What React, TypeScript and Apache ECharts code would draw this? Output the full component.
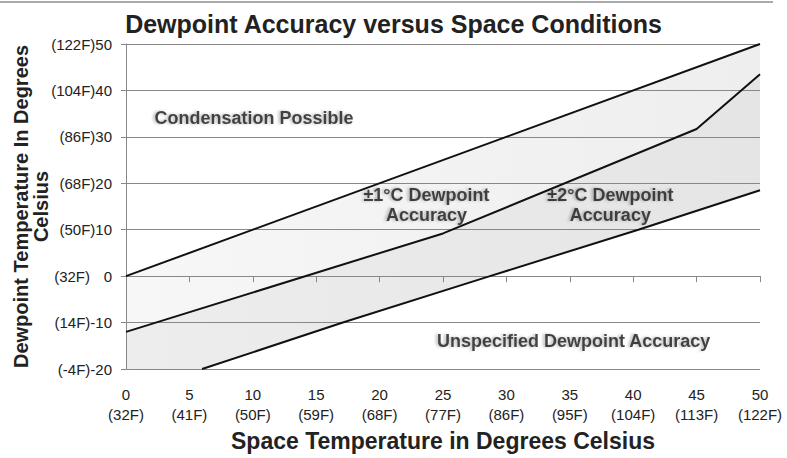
import React, { useEffect, useRef } from "react";
import * as echarts from "echarts";

// Axis ticks
const xTicks = [0, 5, 10, 15, 20, 25, 30, 35, 40, 45, 50];
const xTickF = ["(32F)", "(41F)", "(50F)", "(59F)", "(68F)", "(77F)", "(86F)", "(95F)", "(104F)", "(113F)", "(122F)"];
const yTicks = [-20, -10, 0, 10, 20, 30, 40, 50];
const yTickF = ["(-4F)", "(14F)", "(32F)", "(50F)", "(68F)", "(86F)", "(104F)", "(122F)"];

// Boundary lines (space temp °C -> dewpoint °C)
const saturationX = [0, 50];
const saturationY = [0, 50];
const acc1X = [0, 25, 45, 50];
const acc1Y = [-12, 9.2, 31.7, 43.5];
const acc2X = [6, 17.1, 28.7, 40.4, 50];
const acc2Y = [-20, -10, 0, 10, 18.5];

// Region annotations
const regionTexts = ["Condensation Possible", "±1°C Dewpoint\nAccuracy", "±2°C Dewpoint\nAccuracy", "Unspecified Dewpoint Accuracy"];
const regionX = [10.1, 23.7, 38.2, 35.3];
const regionY = [34, 15.3, 15.3, -14];

const zip = (xs: number[], ys: number[]) => xs.map((x, i) => [x, ys[i]]);

const FONT = "'Liberation Sans', Arial, sans-serif";

export default function App() {
  const ref = useRef<HTMLDivElement>(null);
  useEffect(() => {
    if (!ref.current) return;
    const chart = echarts.init(ref.current, null, { renderer: "svg" });
    const hGrad = (a: string, b: string) =>
      new echarts.graphic.LinearGradient(0, 0, 1, 0, [
        { offset: 0, color: a },
        { offset: 1, color: b },
      ]);
    const fill = (xs: number[], ys: number[], color: any) => ({
      type: "line",
      data: zip(xs, ys),
      symbol: "none",
      z: 1,
      silent: true,
      lineStyle: { width: 0, opacity: 0 },
      areaStyle: { color, opacity: 1, origin: "start" },
    });
    const stroke = (xs: number[], ys: number[]) => ({
      type: "line",
      data: zip(xs, ys),
      symbol: "none",
      z: 3,
      silent: true,
      lineStyle: { width: 2, color: "#111" },
    });
    chart.setOption({
      animation: false,
      backgroundColor: "#ffffff",
      title: {
        text: "Dewpoint Accuracy versus Space Conditions",
        left: "center",
        top: 11,
        padding: 0,
        textStyle: { fontFamily: FONT, fontWeight: "bold", fontSize: 25, color: "#222" },
      },
      graphic: [
        { type: "line", shape: { x1: 0, y1: 2, x2: 773, y2: 2 }, style: { stroke: "#aaa", lineWidth: 2 } },
      ],
      grid: { left: 126, right: 27, top: 44, bottom: 89, containLabel: false, outerBoundsMode: "none" },
      xAxis: {
        type: "value",
        min: 0,
        max: 50,
        interval: 5,
        z: 2,
        name: "Space Temperature in Degrees Celsius",
        nameLocation: "middle",
        nameGap: 60,
        nameMoveOverlap: false,
        nameTextStyle: { fontFamily: FONT, fontWeight: "bold", fontSize: 23, color: "#222" },
        axisLine: { show: true, lineStyle: { color: "#888", width: 1 } },
        axisTick: { show: true, length: 6, lineStyle: { color: "#888" } },
        splitLine: { show: false },
        axisLabel: {
          margin: 15,
          fontFamily: FONT,
          fontSize: 15,
          color: "#222",
          lineHeight: 20,
          formatter: (v: number) => `${v}\n${xTickF[xTicks.indexOf(v)] ?? ""}`,
        },
      },
      yAxis: {
        type: "value",
        min: -20,
        max: 50,
        interval: 10,
        z: 2,
        name: "Dewpoint Temperature In Degrees\nCelsius",
        nameLocation: "middle",
        nameRotate: 90,
        nameGap: 75,
        nameMoveOverlap: false,
        nameTextStyle: { fontFamily: FONT, fontWeight: "bold", fontSize: 20, color: "#222", lineHeight: 20 },
        axisLine: { show: true, lineStyle: { color: "#888", width: 1 } },
        axisTick: { show: true, length: 5, lineStyle: { color: "#888" } },
        splitLine: { show: true, lineStyle: { color: "#888", width: 1 } },
        axisLabel: {
          margin: 14,
          fontFamily: FONT,
          fontSize: 15,
          color: "#222",
          formatter: (v: number) => {
            const f = yTickF[yTicks.indexOf(v)] ?? "";
            const s = String(v);
            return s.length === 1 ? `{f|${f}}{z|${s}}` : `{f|${f}}{n|${s}}`;
          },
          rich: {
            f: { fontFamily: FONT, fontSize: 15, color: "#222" },
            n: { fontFamily: FONT, fontSize: 15, color: "#222" },
            z: { fontFamily: FONT, fontSize: 15, color: "#222", width: 22, align: "right" },
          },
        },
      },
      series: [
        fill(saturationX, saturationY, hGrad("#f7f7f7", "#eeeeee")),
        fill(acc1X, acc1Y, hGrad("#ededed", "#e5e5e5")),
        fill(acc2X, acc2Y, "#ffffff"),
        stroke(saturationX, saturationY),
        stroke(acc1X, acc1Y),
        stroke(acc2X, acc2Y),
        {
          type: "scatter",
          z: 4,
          symbolSize: 0,
          silent: true,
          data: regionTexts.map((t, i) => ({ value: [regionX[i], regionY[i]], name: t })),
          label: {
            show: true,
            position: "inside",
            formatter: (p: any) => p.name,
            fontFamily: FONT,
            fontWeight: "bold",
            fontSize: 18,
            lineHeight: 20,
            align: "center",
            color: "#1a1a1a",
            textShadowColor: "rgba(0,0,0,0.35)",
            textShadowBlur: 3,
            textShadowOffsetX: -2,
            textShadowOffsetY: 0,
          },
        },
      ],
    });
    return () => chart.dispose();
  }, []);
  return (
    <div
      ref={ref}
      style={{ position: "fixed", left: 0, top: 0, width: 787, height: 458 }}
    />
  );
}
